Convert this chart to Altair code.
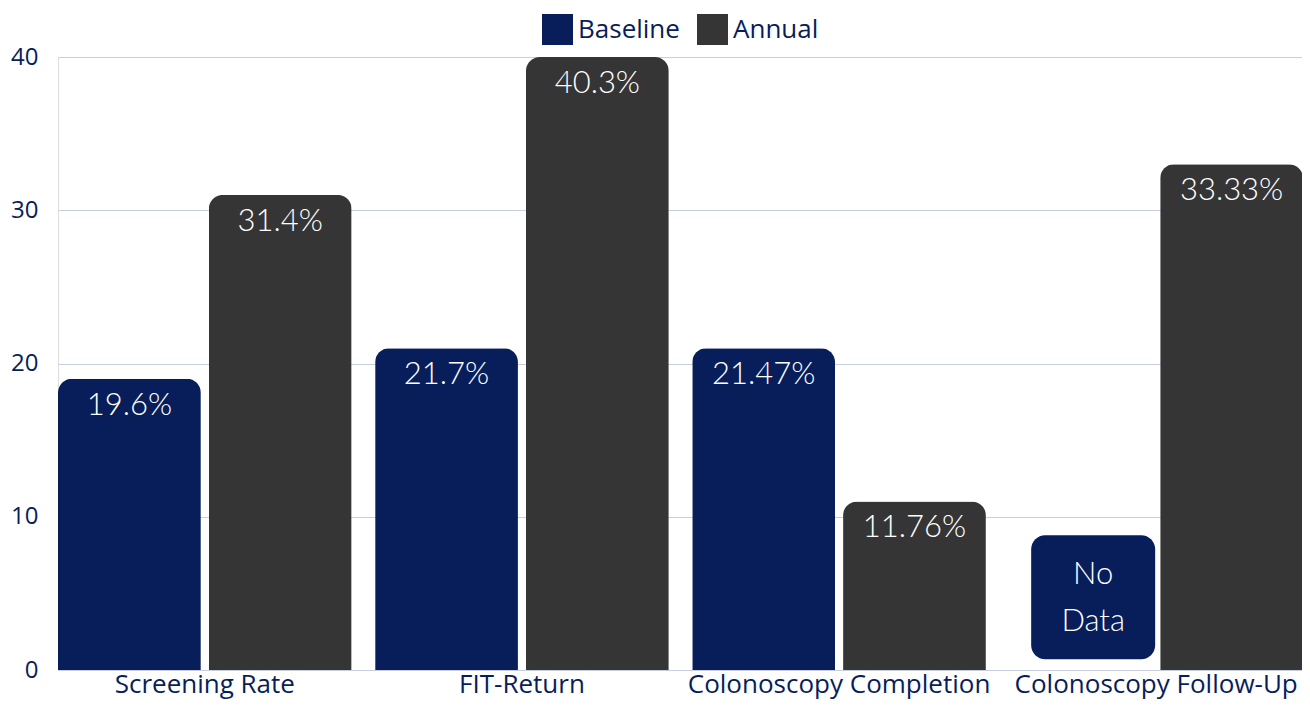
import altair as alt
import pandas as pd

NAVY = "#071e5a"
GRAY = "#353535"
GRID = "#c8cee0"

metrics = ["Screening Rate", "FIT-Return", "Colonoscopy Completion", "Colonoscopy Follow-Up"]
series = ["Baseline", "Annual"]
baseline_heights = [19.0, 21.0, 21.0, None]
annual_heights = [31.0, 40.0, 11.0, 33.0]
baseline_labels = ["19.6%", "21.7%", "21.47%", None]
annual_labels = ["31.4%", "40.3%", "11.76%", "33.33%"]
no_data_metric = "Colonoscopy Follow-Up"
no_data_low = 0.7
no_data_high = 8.8
no_data_text = "No\nData"
y_ticks = [0, 10, 20, 30, 40]

rows = []
for m, bh, bl, ah, al in zip(metrics, baseline_heights, baseline_labels, annual_heights, annual_labels):
    if bh is not None:
        rows.append({"metric": m, "series": "Baseline", "height": bh, "label": bl})
    rows.append({"metric": m, "series": "Annual", "height": ah, "label": al})
df = pd.DataFrame(rows)

nd = pd.DataFrame([{
    "metric": no_data_metric, "series": "Baseline",
    "low": no_data_low, "high": no_data_high,
    "mid": (no_data_low + no_data_high) / 2, "text": no_data_text,
}])

x_enc = alt.X(
    "metric:N", sort=metrics,
    scale=alt.Scale(domain=metrics, range=[0, 1245], paddingInner=0.074, paddingOuter=0),
    axis=alt.Axis(title=None, labelAngle=0, ticks=False, domain=False,
                  labelFontSize=26, labelFont="Open Sans", labelColor=NAVY,
                  labelPadding=1, labelLimit=0, grid=False),
)
xo_enc = alt.XOffset("series:N", sort=series,
                     scale=alt.Scale(domain=series, paddingInner=0.053, paddingOuter=0))
y_scale = alt.Scale(domain=[0, 40], nice=False)

bars = alt.Chart(df).mark_bar(cornerRadiusTopLeft=14, cornerRadiusTopRight=14).encode(
    x=x_enc,
    xOffset=xo_enc,
    y=alt.Y("height:Q", scale=y_scale,
            axis=alt.Axis(values=y_ticks, title=None, ticks=False, domain=False,
                          labelFontSize=24, labelFont="Open Sans", labelColor=NAVY,
                          labelPadding=20, gridColor=GRID, gridWidth=1)),
    color=alt.Color("series:N", scale=alt.Scale(domain=series, range=[NAVY, GRAY]),
                    legend=alt.Legend(orient="none", legendX=484, legendY=-43,
                                      direction="horizontal", title=None,
                                      symbolType="square", symbolSize=961,
                                      symbolStrokeWidth=0, labelFontSize=26,
                                      labelFont="Open Sans", labelColor=NAVY,
                                      labelOffset=5, columnPadding=17, padding=0)),
)

labels = alt.Chart(df).mark_text(color="white", font="Lato", fontSize=31, fontWeight=300,
                                 baseline="alphabetic", dy=36).encode(
    x=alt.X("metric:N", sort=metrics),
    xOffset=alt.XOffset("series:N", sort=series),
    y=alt.Y("height:Q"),
    text="label:N",
)

nd_bar = alt.Chart(nd).mark_bar(cornerRadius=14, width=124, xOffset=-63, color=NAVY).encode(
    x=alt.X("metric:N", sort=metrics),
    y=alt.Y("low:Q"),
    y2="high:Q",
)

nd_text = alt.Chart(nd).mark_text(color="white", font="Lato", fontSize=31, fontWeight=300,
                                  baseline="middle", lineBreak="\n", lineHeight=47,
                                  dx=-63, dy=-22).encode(
    x=alt.X("metric:N", sort=metrics),
    y=alt.Y("mid:Q"),
    text="text:N",
)

chart = alt.layer(bars, labels, nd_bar, nd_text).properties(
    width=1244, height=613,
    autosize=alt.AutoSizeParams(type="none"),
    padding={"left": 50, "top": 49, "right": 0, "bottom": 33},
).configure_view(stroke=None).configure(background="white")

chart.save("out.html", embed_options={"renderer": "svg", "actions": False})
